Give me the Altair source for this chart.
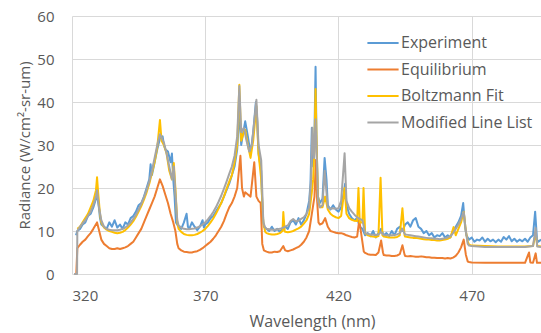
import altair as alt
import pandas as pd

# Spectral radiance, wavelength (nm) -> radiance (W/cm^2-sr-um)
experiment = [
    (321.5, 9.0), (322, 10.0), (323, 10.5), (324, 11.5), (325, 12.0), (326, 13.5), (327, 14.0),
    (328, 15.5), (329, 17.5), (329.5, 18.0), (330, 16.0), (330.5, 13.0), (331, 11.5), (332, 11.0),
    (333, 10.5), (334, 12.0), (335, 11.0), (336, 12.5), (337, 10.8), (338, 11.5), (339, 10.5),
    (340, 12.0), (341, 11.5), (342, 13.0), (343, 13.5), (344, 14.5), (345, 16.0), (346, 16.5),
    (347, 18.0), (348, 20.0), (349, 22.0), (349.5, 25.5), (350, 23.0), (351, 26.0), (352, 29.0),
    (353, 31.5), (354, 32.0), (354.5, 30.0), (355, 29.0), (356, 28.5), (357, 26.0), (357.5, 28.0),
    (358, 22.0), (358.5, 18.0), (359, 12.0), (360, 11.0), (361, 10.5), (362, 12.0), (363, 14.0),
    (363.5, 11.0), (364, 10.5), (365, 12.0), (366, 11.0), (367, 10.2), (368, 11.0), (369, 12.5),
    (369.5, 10.8), (370, 11.5), (371, 12.0), (372, 13.0), (373, 13.5), (374, 14.5), (375, 15.5),
    (376, 16.5), (377, 18.0), (378, 19.5), (379, 21.0), (380, 23.0), (381, 25.0), (382, 29.0),
    (382.8, 38.0), (383.5, 30.0), (384, 32.0), (385, 35.5), (386, 32.0), (387, 28.0), (388, 33.0),
    (389, 40.0), (389.5, 36.0), (390, 28.0), (391, 24.0), (391.5, 14.0), (392, 11.0), (393, 10.5),
    (394, 10.0), (395, 11.0), (396, 10.0), (397, 10.5), (398, 9.8), (399, 10.5), (400, 11.0),
    (401, 10.5), (402, 12.0), (403, 12.5), (404, 11.5), (405, 13.0), (406, 11.5), (407, 12.5),
    (408, 14.0), (409, 17.0), (409.5, 21.0), (410, 34.0), (410.5, 25.0), (411, 33.0), (411.4, 48.2),
    (411.8, 30.0), (412.3, 18.0), (413, 16.5), (414, 17.5), (414.8, 27.0), (415.5, 22.0), (416, 16.0),
    (417, 15.0), (418, 16.0), (419, 15.0), (420, 14.5), (421, 15.5), (422, 19.0), (422.5, 21.0),
    (423, 16.0), (424, 14.0), (425, 13.0), (426, 12.5), (427, 13.0), (428, 11.0), (429, 10.5),
    (430, 9.0), (431, 9.5), (432, 8.8), (433, 10.0), (434, 8.5), (435, 9.5), (436, 10.5), (437, 9.0),
    (438, 9.5), (439, 8.8), (440, 10.0), (441, 9.0), (442, 10.5), (443, 11.0), (444, 10.0),
    (445, 11.5), (446, 12.0), (447, 11.0), (448, 12.5), (449, 13.0), (450, 11.0), (451, 10.5),
    (452, 9.5), (453, 10.0), (454, 9.0), (455, 9.5), (456, 8.5), (457, 9.0), (458, 8.8), (459, 9.5),
    (460, 8.5), (461, 9.0), (462, 8.5), (463, 10.0), (464, 11.0), (465, 12.0), (466, 13.5),
    (466.8, 16.5), (467.5, 11.0), (468, 9.0), (469, 8.0), (470, 8.5), (471, 7.5), (472, 8.0),
    (473, 7.8), (474, 8.5), (475, 7.5), (476, 8.2), (477, 7.6), (478, 8.0), (479, 7.4), (480, 8.0),
    (481, 7.5), (482, 8.6), (483, 8.0), (484, 8.8), (485, 7.6), (486, 8.2), (487, 7.5), (488, 8.0),
    (489, 7.6), (490, 8.2), (491, 7.5), (492, 8.5), (493, 9.0), (493.8, 14.5), (494.5, 8.0),
    (495, 7.5), (496, 8.0),
]

equilibrium = [
    (321, 0.0), (321.6, 0.0), (322, 6.0), (323, 6.8), (324, 7.5), (325, 8.0), (326, 8.8), (327, 9.5),
    (328, 10.5), (329.4, 12.0), (330, 10.5), (331, 8.0), (332, 7.0), (333, 6.5), (334, 6.0),
    (335, 5.8), (336, 5.8), (337, 6.0), (338, 5.8), (339, 6.0), (340, 6.2), (341, 6.5), (342, 7.0),
    (343, 7.5), (344, 8.5), (345, 9.5), (346, 10.5), (347, 12.0), (348, 13.5), (349, 15.0),
    (350, 16.5), (351, 18.0), (352, 20.0), (353, 22.0), (354, 20.5), (355, 18.5), (356, 16.5),
    (357, 14.0), (358, 12.0), (358.8, 10.0), (359.5, 7.0), (360, 6.0), (361, 5.5), (362, 5.2),
    (363, 5.1), (364, 5.0), (365, 5.0), (366, 5.2), (367, 5.3), (368, 5.6), (369, 6.0), (370, 6.5),
    (371, 7.0), (372, 7.5), (373, 8.2), (374, 9.0), (375, 10.0), (376, 11.0), (377, 12.3),
    (378, 14.0), (379, 15.5), (380, 16.5), (381, 18.0), (382, 20.0), (383.2, 27.5), (383.8, 20.0),
    (384.5, 18.0), (385, 19.0), (386, 18.5), (387, 18.0), (388.4, 26.0), (389.2, 18.0), (390, 17.0),
    (390.8, 16.5), (391.4, 7.0), (392, 5.5), (393, 5.2), (394, 5.0), (395, 5.0), (396, 5.2),
    (397, 5.1), (398, 5.3), (399.3, 6.5), (400, 5.5), (401, 5.3), (402, 5.5), (403, 5.7), (404, 6.0),
    (405, 6.3), (406, 6.8), (407, 7.5), (408, 8.5), (409, 10.0), (410, 14.0), (411, 18.0),
    (411.5, 26.5), (412, 17.0), (412.5, 12.0), (413, 11.5), (414, 11.8), (415, 13.0), (416, 11.0),
    (417, 10.0), (418, 9.8), (419, 9.6), (420, 9.5), (421, 9.5), (422, 9.3), (423, 9.0), (424, 8.8),
    (425, 8.6), (426, 8.5), (427, 8.7), (427.8, 12.5), (428.5, 9.5), (429.5, 5.2), (430, 4.9),
    (431, 4.6), (432, 4.5), (433, 4.5), (434, 4.4), (435, 5.0), (436, 7.8), (436.7, 5.0), (437, 4.4),
    (438, 4.3), (439, 4.3), (440, 4.2), (441, 4.2), (442, 4.3), (443, 4.6), (444, 6.7), (444.8, 4.5),
    (445, 4.2), (446, 4.1), (447, 4.2), (448, 4.1), (449, 4.0), (450, 4.0), (451, 4.1), (452, 4.0),
    (453, 3.9), (454, 3.9), (455, 3.8), (456, 3.8), (457, 3.7), (458, 3.7), (459, 3.7), (460, 3.6),
    (461, 3.7), (462, 3.6), (463, 3.8), (464, 4.2), (465, 5.0), (466, 6.2), (467, 8.0), (467.8, 4.5),
    (468.5, 2.9), (469, 2.8), (470, 2.7), (475, 2.6), (480, 2.6), (485, 2.6), (490, 2.6),
    (491.5, 5.0), (492, 2.7), (493, 2.6), (494, 4.8), (494.5, 2.6), (496, 2.6),
]

boltzmann_fit = [
    (322, 10.5), (323, 11.0), (324, 12.0), (325, 13.0), (326, 14.0), (327, 15.5), (328, 17.0),
    (329, 19.5), (329.4, 22.5), (329.8, 19.0), (330.5, 14.0), (331, 12.0), (332, 10.8), (333, 10.3),
    (334, 10.0), (335, 9.8), (336, 9.6), (337, 9.5), (338, 9.6), (339, 9.8), (340, 10.2), (341, 10.8),
    (342, 11.5), (343, 12.3), (344, 13.3), (345, 14.5), (346, 15.8), (347, 17.3), (348, 19.0),
    (349, 21.0), (350, 23.5), (351, 26.0), (352, 29.5), (353, 35.8), (353.6, 31.0), (354.5, 30.0),
    (355.5, 28.0), (356.5, 24.0), (357.5, 22.0), (358.2, 25.8), (358.8, 20.0), (359.5, 12.0),
    (360, 10.5), (361, 9.8), (362, 9.3), (363, 9.1), (364, 9.0), (365, 9.0), (366, 9.1), (367, 9.3),
    (368, 9.6), (369, 10.0), (370, 10.5), (371, 11.2), (372, 12.0), (373, 12.9), (374, 14.0),
    (375, 15.2), (376, 16.5), (377, 18.0), (378, 19.8), (379, 21.5), (380, 23.0), (381, 26.0),
    (382, 30.0), (382.8, 44.0), (383.5, 31.0), (384.5, 33.0), (385, 33.5), (386, 30.0), (387, 27.0),
    (388, 31.0), (389.2, 39.0), (390, 28.0), (391, 22.0), (391.8, 12.0), (392.5, 9.8), (393, 9.5),
    (394, 9.3), (395, 9.2), (396, 9.2), (397, 9.3), (398, 9.5), (399, 10.0), (399.3, 14.4),
    (399.8, 10.0), (400, 9.8), (401, 9.7), (402, 9.8), (403, 10.0), (404, 10.3), (405, 10.6),
    (406, 11.0), (407, 11.7), (408, 12.5), (409, 14.0), (410, 19.0), (410.5, 22.0), (411, 30.0),
    (411.4, 43.0), (411.8, 30.0), (412.3, 18.0), (413, 15.5), (414, 15.5), (415, 18.0), (416, 15.0),
    (417, 14.0), (418, 13.5), (419, 13.2), (420, 13.0), (421, 13.5), (422.3, 20.0), (423, 14.0),
    (424, 13.0), (425, 12.6), (426, 12.4), (427, 12.3), (427.5, 20.0), (428, 12.0), (429, 12.0),
    (429.4, 20.0), (430, 9.5), (431, 9.0), (432, 8.8), (433, 8.7), (434, 8.6), (435, 8.8),
    (435.8, 22.4), (436.5, 9.0), (437, 8.7), (438, 8.6), (439, 8.5), (440, 8.5), (441, 8.5),
    (442, 8.6), (443, 9.0), (444, 15.3), (444.8, 9.0), (445, 8.7), (446, 8.6), (447, 8.5), (448, 8.4),
    (449, 8.4), (450, 8.3), (451, 8.2), (452, 8.1), (453, 8.0), (454, 8.0), (455, 7.9), (456, 7.9),
    (457, 7.8), (458, 7.8), (459, 7.9), (460, 8.0), (461, 8.2), (462, 8.5), (463.2, 10.9), (464, 9.0),
    (465, 10.5), (466, 12.0), (467, 14.5), (467.8, 10.0), (468.5, 7.5), (469, 6.8), (470, 6.6),
    (475, 6.5), (480, 6.4), (485, 6.4), (490, 6.4), (493, 6.5), (494, 9.5), (494.6, 6.5), (496, 6.4),
]

modified_line_list = [
    (320.8, 0.0), (321.9, 0.0), (322, 10.0), (323, 11.0), (324, 11.8), (325, 12.5), (326, 13.5),
    (327, 14.5), (328, 16.0), (329, 18.0), (329.4, 19.5), (330, 16.0), (331, 12.5), (332, 11.0),
    (333, 10.5), (334, 10.3), (335, 10.2), (336, 10.2), (337, 10.2), (338, 10.3), (339, 10.5),
    (340, 10.8), (341, 11.3), (342, 12.0), (343, 12.8), (344, 13.8), (345, 15.0), (346, 16.3),
    (347, 17.8), (348, 19.5), (349, 21.5), (350, 24.0), (351, 27.0), (352, 30.0), (353, 32.5),
    (353.8, 31.5), (354.5, 30.5), (355.5, 28.0), (356.5, 25.0), (357.5, 22.0), (358.2, 25.0),
    (358.8, 19.0), (359.5, 12.5), (360, 11.3), (361, 10.8), (362, 10.5), (363, 10.4), (364, 10.4),
    (365, 10.5), (366, 10.6), (367, 10.8), (368, 11.1), (369, 11.5), (370, 12.0), (371, 12.7),
    (372, 13.5), (373, 14.4), (374, 15.5), (375, 16.8), (376, 18.2), (377, 19.8), (378, 21.5),
    (379, 23.3), (380, 25.0), (381, 27.5), (382, 32.0), (382.8, 43.7), (383.5, 33.0), (384.5, 34.0),
    (385.5, 31.0), (386.5, 28.5), (387.5, 30.0), (388.5, 36.0), (389.2, 40.5), (390, 30.0),
    (391, 26.5), (391.8, 12.0), (392.5, 10.8), (393, 10.5), (394, 10.4), (395, 10.3), (396, 10.3),
    (397, 10.4), (398, 10.5), (399, 10.7), (400, 11.0), (401, 11.3), (402, 12.3), (403, 12.8),
    (404, 12.2), (405, 12.4), (406, 12.8), (407, 13.2), (408, 14.0), (409, 15.5), (409.7, 22.0),
    (410.2, 34.0), (410.8, 27.0), (411.4, 36.0), (411.8, 28.0), (412.3, 17.0), (413, 15.5),
    (414, 16.0), (414.8, 24.0), (415.5, 19.0), (416, 15.5), (417, 15.2), (418, 15.3), (419, 15.2),
    (420, 15.3), (421, 17.0), (422.3, 28.1), (423, 17.0), (424, 15.3), (425, 14.5), (426, 13.8),
    (427, 13.2), (428, 12.8), (429, 12.5), (430, 9.5), (431, 9.3), (432, 9.2), (433, 9.1), (434, 9.1),
    (435, 9.2), (436, 9.8), (436.7, 9.2), (437, 9.1), (438, 9.0), (439, 9.0), (440, 9.0), (441, 9.1),
    (442, 9.2), (443, 9.5), (444, 10.5), (444.8, 9.4), (445, 9.2), (446, 9.1), (447, 9.0), (448, 8.9),
    (449, 8.8), (450, 8.7), (451, 8.6), (452, 8.5), (453, 8.4), (454, 8.3), (455, 8.3), (456, 8.2),
    (457, 8.2), (458, 8.1), (459, 8.2), (460, 8.3), (461, 8.5), (462, 8.8), (463, 9.5), (464, 10.5),
    (465, 11.5), (466, 12.8), (467, 14.4), (467.8, 10.0), (468.5, 7.0), (469, 6.6), (470, 6.5),
    (475, 6.3), (480, 6.3), (485, 6.3), (490, 6.3), (493, 6.5), (494, 10.7), (494.6, 6.4), (496, 6.3),
]

series_names = ["Experiment", "Equilibrium", "Boltzmann Fit", "Modified Line List"]
series_colors = ["#5B9BD5", "#ED7D31", "#FFC000", "#A5A5A5"]
series_points = [experiment, equilibrium, boltzmann_fit, modified_line_list]

x_ticks = [320, 370, 420, 470]
y_ticks = [0, 10, 20, 30, 40, 50, 60]

rows = []
for name, pts in zip(series_names, series_points):
    for wl, val in pts:
        rows.append({"series": name, "wavelength": wl, "radiance": val})
df = pd.DataFrame(rows)

FONT = "Open Sans"
TEXT = "#595959"

color = alt.Color(
    "series:N",
    scale=alt.Scale(domain=series_names, range=series_colors),
    sort=series_names,
    legend=alt.Legend(
        title=None,
        orient="none",
        legendX=297,
        legendY=13,
        symbolType="M-1.2,0H1.2",
        symbolSize=676,
        symbolStrokeWidth=2,
        rowPadding=4.5,
        padding=0,
        labelFont=FONT,
        labelFontSize=16,
        labelColor=TEXT,
        labelOffset=4,
    ),
)

base = alt.Chart(df).encode(
    x=alt.X(
        "wavelength:Q",
        scale=alt.Scale(domain=[320, 496], nice=False, zero=False),
        axis=alt.Axis(values=x_ticks, title="Wavelength (nm)", titleX=240, labelPadding=14,
                      titlePadding=10, titleFontSize=16),
    ),
    y=alt.Y(
        "radiance:Q",
        scale=alt.Scale(domain=[0, 60], nice=False),
        axis=alt.Axis(values=y_ticks, title="Radiance (W/cm²-sr-um)", labelPadding=18,
                      titlePadding=4, titleFontSize=15),
    ),
    color=color,
)

# Excel-style drawing order: later series sit on top
layers = [
    base.transform_filter(alt.datum.series == name).mark_line(strokeWidth=2, strokeJoin="round")
    for name in series_names
]

chart = (
    alt.layer(*layers)
    .properties(
        width=469,
        height=258,
        autosize=alt.AutoSizeParams(type="none"),
        padding={"left": 72, "top": 16, "right": 0, "bottom": 59},
        background="white",
    )
    .configure_view(stroke=None)
    .configure_axis(
        grid=True,
        gridColor="#D9D9D9",
        gridWidth=1,
        domain=False,
        ticks=False,
        labelFont=FONT,
        labelFontSize=15,
        labelColor=TEXT,
        titleFont=FONT,
        titleFontWeight="normal",
        titleColor=TEXT,
    )
)

chart.save("out.html", embed_options={"renderer": "svg", "actions": False})
